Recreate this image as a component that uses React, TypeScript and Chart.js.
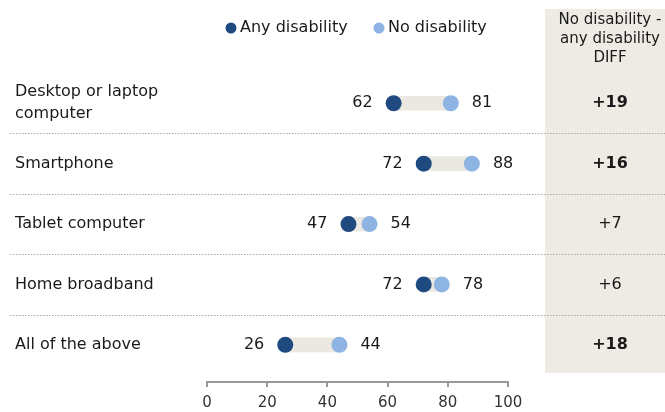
import React, { useEffect, useRef } from "react";
import { Chart, registerables } from "chart.js";

Chart.register(...registerables);

const categories: string[][] = [
  ["Desktop or laptop", "computer"],
  ["Smartphone"],
  ["Tablet computer"],
  ["Home broadband"],
  ["All of the above"],
];
const anyDisability = [62, 72, 47, 72, 26];
const noDisability = [81, 88, 54, 78, 44];
const diffLabels = ["+19", "+16", "+7", "+6", "+18"];
const diffBold = [true, true, false, false, true];
const seriesNames = ["Any disability", "No disability"];
const diffHeader = ["No disability -", "any disability", "DIFF"];

const DARK = "#1f4a80";
const LIGHT = "#8db4e2";
const BAR = "#ebe8e1";
const PANEL = "#eeebe4";
const FONT = "'DejaVu Sans', sans-serif";

const overlayPlugin = {
  id: "overlay",
  beforeDatasetsDraw(chart: any) {
    const ctx = chart.ctx;
    const y = chart.scales.y;
    ctx.save();
    // right panel
    ctx.fillStyle = PANEL;
    ctx.fillRect(545, 9, chart.width - 545, 364);
    // separators
    ctx.strokeStyle = "#a8a8a8";
    ctx.lineWidth = 1;
    ctx.setLineDash([1.5, 1.5]);
    for (let i = 0; i < categories.length - 1; i++) {
      const py = Math.round(y.getPixelForValue(i + 0.5)) + 0.5;
      ctx.beginPath();
      ctx.moveTo(10, py);
      ctx.lineTo(chart.width, py);
      ctx.stroke();
    }
    ctx.restore();
  },
  afterDatasetsDraw(chart: any) {
    const ctx = chart.ctx;
    const x = chart.scales.x;
    const y = chart.scales.y;
    ctx.save();
    ctx.textBaseline = "middle";
    // category labels
    ctx.fillStyle = "#1a1a1a";
    ctx.font = `16px ${FONT}`;
    ctx.textAlign = "left";
    categories.forEach((lines, i) => {
      const cy = y.getPixelForValue(i);
      const lh = 22;
      const start = cy - ((lines.length - 1) * lh) / 2;
      lines.forEach((t, k) => ctx.fillText(t, 15, start + k * lh));
    });
    // value labels
    anyDisability.forEach((v, i) => {
      const cy = y.getPixelForValue(i);
      ctx.textAlign = "right";
      ctx.fillText(String(v), x.getPixelForValue(v) - 21, cy);
      ctx.textAlign = "left";
      ctx.fillText(String(noDisability[i]), x.getPixelForValue(noDisability[i]) + 21, cy);
    });
    // diff column
    ctx.textAlign = "center";
    diffLabels.forEach((t, i) => {
      ctx.font = `${diffBold[i] ? "bold " : ""}16px ${FONT}`;
      ctx.fillText(t, 610, y.getPixelForValue(i));
    });
    ctx.font = `15px ${FONT}`;
    diffHeader.forEach((t, k) => ctx.fillText(t, 610, 20 + k * 19));
    // legend
    ctx.font = `16px ${FONT}`;
    ctx.textAlign = "left";
    const legend = [
      { x: 231, color: DARK, label: seriesNames[0] },
      { x: 379, color: LIGHT, label: seriesNames[1] },
    ];
    legend.forEach((l) => {
      ctx.fillStyle = l.color;
      ctx.beginPath();
      ctx.arc(l.x, 28, 5.5, 0, Math.PI * 2);
      ctx.fill();
      ctx.fillStyle = "#1a1a1a";
      ctx.fillText(l.label, l.x + 9, 28);
    });
    ctx.restore();
  },
};

export default function App() {
  const ref = useRef<HTMLCanvasElement | null>(null);
  useEffect(() => {
    document.body.style.margin = "0";
    const canvas = ref.current;
    if (!canvas) return;
    const chart = new Chart(canvas, {
      type: "scatter",
      data: {
        datasets: [
          {
            type: "scatter",
            label: seriesNames[0],
            data: anyDisability.map((v, i) => ({ x: v, y: i })),
            pointRadius: 8,
            pointHoverRadius: 8,
            pointBackgroundColor: DARK,
            pointBorderWidth: 0,
            order: 0,
          } as any,
          {
            type: "scatter",
            label: seriesNames[1],
            data: noDisability.map((v, i) => ({ x: v, y: i })),
            pointRadius: 8,
            pointHoverRadius: 8,
            pointBackgroundColor: LIGHT,
            pointBorderWidth: 0,
            order: 1,
          } as any,
          {
            type: "bar",
            label: "range",
            indexAxis: "y",
            data: anyDisability.map((v, i) => ({ x: [v, noDisability[i]], y: i })),
            backgroundColor: BAR,
            barThickness: 14,
            borderWidth: 0,
            order: 10,
          } as any,
        ],
      },
      options: {
        animation: false,
        responsive: true,
        maintainAspectRatio: false,
        layout: { padding: { left: 207, right: 157, top: 67, bottom: 0 } },
        plugins: { legend: { display: false }, tooltip: { enabled: false } },
        scales: {
          x: {
            type: "linear",
            position: "bottom",
            min: 0,
            max: 100,
            offset: false,
            ticks: {
              stepSize: 20,
              padding: 7,
              color: "#333",
              font: { family: FONT, size: 15 },
            },
            grid: {
              display: true,
              offset: false,
              drawOnChartArea: false,
              drawTicks: true,
              tickLength: 5,
              color: "#999",
              lineWidth: 2,
            },
            border: { display: true, color: "#999", width: 2 },
            afterFit: (scale: any) => {
              scale.height = 30;
            },
          },
          y: {
            type: "linear",
            reverse: true,
            min: -0.6,
            max: 4.615,
            offset: false,
            grid: { offset: false },
            display: false,
          },
        },
      } as any,
      plugins: [overlayPlugin],
    });
    return () => chart.destroy();
  }, []);
  return (
    <div style={{ width: 665, height: 412, position: "relative" }}>
      <canvas ref={ref} />
    </div>
  );
}
